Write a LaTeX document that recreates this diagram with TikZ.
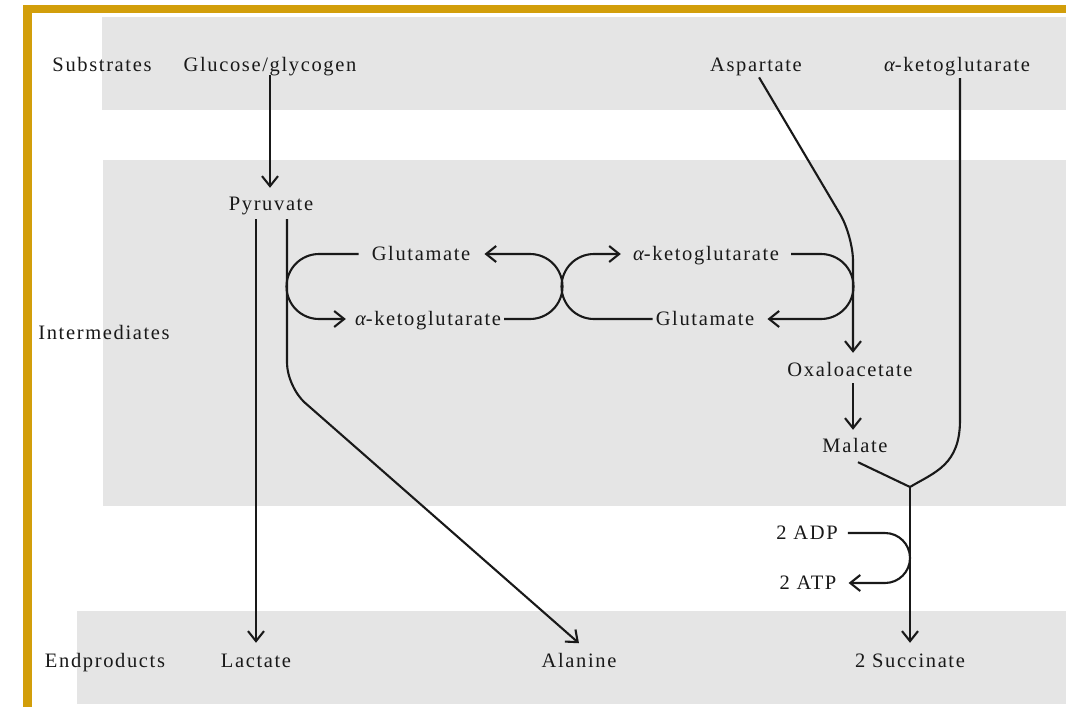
\documentclass[tikz,border=0pt]{standalone}
\usepackage{fontspec}
\setmainfont{Liberation Serif}[LetterSpace=8]
\usetikzlibrary{arrows.meta,calc}
\definecolor{gold}{RGB}{210,158,10}
\definecolor{band}{RGB}{229,229,229}
\definecolor{ink}{RGB}{25,25,25}
\newcommand{\ak}{{\itshape α}-ketoglutarate}
\begin{document}
\begin{tikzpicture}[x=1pt,y=-1pt,
  lab/.style={inner sep=0pt, text height=13pt, text depth=1pt, anchor=base, text=ink,
              font=\fontsize{20.5pt}{23pt}\selectfont},
  conn/.style={draw=ink, line width=2.1pt},
  arr/.style={conn, -{Straight Barb[length=10pt,width=16pt]}}]
\useasboundingbox (0,0) rectangle (1066,707);
\fill[white] (0,0) rectangle (1066,707);
\fill[band] (102,17) rectangle (1066,110);
\fill[band] (103,160) rectangle (1066,506);
\fill[band] (77,611) rectangle (1066,704);
\fill[gold] (23,5) rectangle (1066,13);
\fill[gold] (23,5) rectangle (32,707);

% row labels
\node[lab] (sub)   at (102,71)  {Substrates};
\node[lab] (inter) at (104,339) {Intermediates};
\node[lab] (endp)  at (105,667) {Endproducts};
% substrates
\node[lab] (glc)  at (270,71) {Glucose/glycogen};
\node[lab] (asp)  at (756,71) {Aspartate};
\node[lab] (akgT) at (957,71) {\ak};
% intermediates
\node[lab] (pyr)  at (271,210) {Pyruvate};
\node[lab] (gluL) at (421,260) {Glutamate};
\node[lab] (akgR) at (706,260) {\ak};
\node[lab] (akgL) at (428,325) {\ak};
\node[lab] (gluR) at (705,325) {Glutamate};
\node[lab] (oaa)  at (850,376) {Oxaloacetate};
\node[lab] (mal)  at (855,452) {Malate};
\node[lab] (adp)  at (807,539) {2 ADP};
\node[lab] (atp)  at (808,589) {2 ATP};
% end products
\node[lab] (lac)  at (256,667) {Lactate};
\node[lab] (ala)  at (579,667) {Alanine};
\node[lab] (suc)  at (910,667) {2 Succinate};

% junction coordinates
\coordinate (pL) at (256,219);
\coordinate (pR) at (287,219);
\coordinate (colA) at (853,0);
\coordinate (colK) at (960,0);
\coordinate (J) at (910,487);

% glycolysis
\draw[arr, shorten <=3pt, shorten >=9pt] (glc.south) -- (glc.south |- pyr.north);
\draw[arr, shorten >=11pt] (pL) -- (pL |- lac.north);
\draw[arr, rounded corners=24pt, shorten >=16pt] (pR) -- (287,387) -- ([xshift=12pt]ala.north);

% transamination loops
\draw[arr] ([xshift=-13pt]gluL.west) -- (319,254)
  arc[start angle=90,end angle=270,radius=32.5pt] -- ([xshift=-9pt]akgL.west);
\draw[arr] ([xshift=3pt]akgL.east) -- (530,319)
  arc[start angle=270,end angle=450,radius=32.5pt] -- ([xshift=14pt]gluL.east);
\draw[arr] ([xshift=-3pt]gluR.west) -- (594,319)
  arc[start angle=270,end angle=90,radius=32.5pt] -- ([xshift=-12pt]akgR.west);
\draw[arr] ([xshift=12pt]akgR.east) -- (821,254)
  arc[start angle=90,end angle=-90,radius=32.5pt] -- ([xshift=13pt]gluR.east);

% aspartate branch
\draw[arr, rounded corners=25pt, shorten <=6pt, shorten >=10pt]
  (asp.south) -- (853,236) -- (colA |- oaa.north);
\draw[arr, shorten <=6pt, shorten >=9pt] (colA |- oaa.south) -- (colA |- mal.north);
\draw[conn] ([xshift=3pt,yshift=-9pt]mal.south) -- (J);
\draw[conn, shorten <=6pt] (colK |- akgT.south) -- (960,420)
  .. controls (960,465) and (935,472) .. (J);
\draw[arr, shorten >=11pt] (J) -- (J |- suc.north);

% ADP/ATP
\draw[arr] ([xshift=10pt]adp.east) -- (885,533)
  arc[start angle=90,end angle=-90,radius=25pt] -- ([xshift=12pt]atp.east);
\end{tikzpicture}
\end{document}
